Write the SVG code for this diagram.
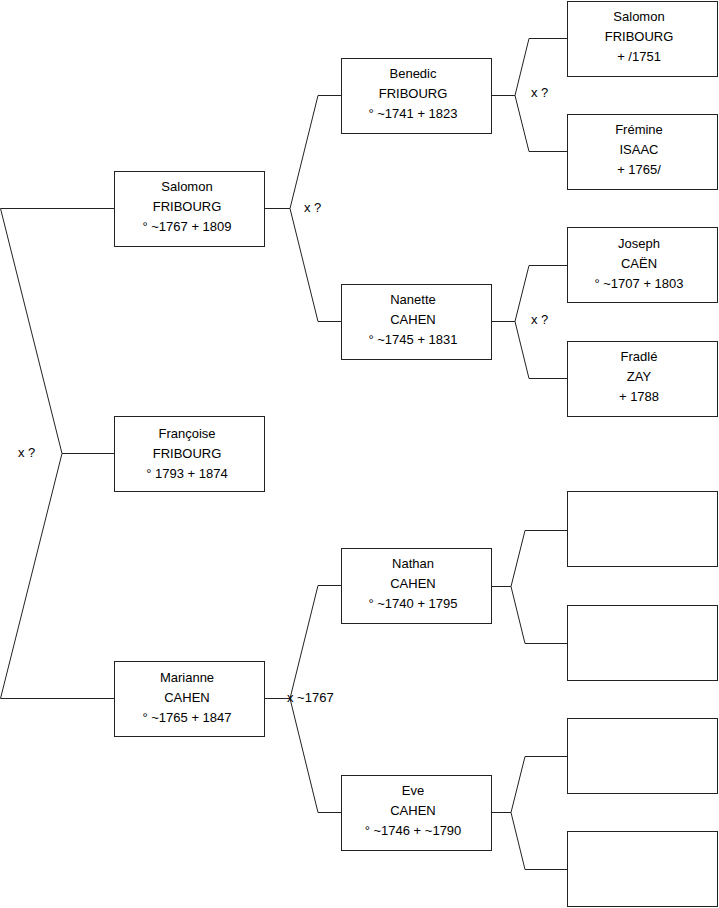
<svg xmlns="http://www.w3.org/2000/svg" width="719" height="908" viewBox="0 0 719 908">
<style>
.box{fill:#fff;stroke:#222;stroke-width:1}
.t{font-family:"Liberation Sans",Arial,sans-serif;font-size:13px;fill:#000;text-anchor:middle}
.l{font-family:"Liberation Sans",Arial,sans-serif;font-size:13px;fill:#000}
.c{fill:none;stroke:#222;stroke-width:1}
</style>
<rect width="719" height="908" fill="#fff"/>
<g id="connectors">
<polyline class="c" points="114,208.5 0.5,208.5 62,453.5 0.5,698.5 114,698.5"/>
<line class="c" x1="62" y1="453.5" x2="114" y2="453.5"/>
<polyline class="c" points="341,95.5 318,95.5 290,208.5 318,321.5 341,321.5"/>
<line class="c" x1="265" y1="208.5" x2="290" y2="208.5"/>
<polyline class="c" points="341,585.5 318,585.5 290,698.5 318,812.5 341,812.5"/>
<line class="c" x1="265" y1="698.5" x2="290" y2="698.5"/>
<polyline class="c" points="567,38.5 529,38.5 515,95.5 529,151.5 567,151.5"/>
<line class="c" x1="491" y1="95.5" x2="515" y2="95.5"/>
<polyline class="c" points="567,265.5 529,265.5 515,321.5 529,378.5 567,378.5"/>
<line class="c" x1="491" y1="321.5" x2="515" y2="321.5"/>
<polyline class="c" points="567,530.5 525,530.5 511,586.5 525,643.5 567,643.5"/>
<line class="c" x1="491" y1="586.5" x2="511" y2="586.5"/>
<polyline class="c" points="567,756.5 525,756.5 511,812.5 525,869.5 567,869.5"/>
<line class="c" x1="491" y1="812.5" x2="511" y2="812.5"/>
<text class="l" x="18" y="457">x ?</text>
<text class="l" x="304" y="212">x ?</text>
<text class="l" x="531" y="97">x ?</text>
<text class="l" x="531" y="324">x ?</text>
<text class="l" x="287" y="702">x ~1767</text>
</g>
<g id="n-salomon-1767">
<rect class="box" x="114.5" y="171.5" width="150" height="75"/>
<text class="t" x="187" y="191">Salomon</text>
<text class="t" x="187" y="211">FRIBOURG</text>
<text class="t" x="187" y="231">° ~1767 + 1809</text>
</g>
<g id="n-francoise">
<rect class="box" x="114.5" y="416.5" width="150" height="75"/>
<text class="t" x="187" y="438">Françoise</text>
<text class="t" x="187" y="458">FRIBOURG</text>
<text class="t" x="187" y="478">° 1793 + 1874</text>
</g>
<g id="n-marianne">
<rect class="box" x="114.5" y="661.5" width="150" height="75"/>
<text class="t" x="187" y="682">Marianne</text>
<text class="t" x="187" y="702">CAHEN</text>
<text class="t" x="187" y="722">° ~1765 + 1847</text>
</g>
<g id="n-benedic">
<rect class="box" x="341.5" y="58.5" width="150" height="75"/>
<text class="t" x="413" y="78">Benedic</text>
<text class="t" x="413" y="98">FRIBOURG</text>
<text class="t" x="413" y="118">° ~1741 + 1823</text>
</g>
<g id="n-nanette">
<rect class="box" x="341.5" y="284.5" width="150" height="75"/>
<text class="t" x="413" y="304">Nanette</text>
<text class="t" x="413" y="324">CAHEN</text>
<text class="t" x="413" y="344">° ~1745 + 1831</text>
</g>
<g id="n-nathan">
<rect class="box" x="341.5" y="548.5" width="150" height="75"/>
<text class="t" x="413" y="568">Nathan</text>
<text class="t" x="413" y="588">CAHEN</text>
<text class="t" x="413" y="608">° ~1740 + 1795</text>
</g>
<g id="n-eve">
<rect class="box" x="341.5" y="775.5" width="150" height="75"/>
<text class="t" x="413" y="795">Eve</text>
<text class="t" x="413" y="815">CAHEN</text>
<text class="t" x="413" y="835">° ~1746 + ~1790</text>
</g>
<g id="n-salomon-1751">
<rect class="box" x="567.5" y="1.5" width="150" height="75"/>
<text class="t" x="639" y="21">Salomon</text>
<text class="t" x="639" y="41">FRIBOURG</text>
<text class="t" x="639" y="61">+ /1751</text>
</g>
<g id="n-fremine">
<rect class="box" x="567.5" y="114.5" width="150" height="75"/>
<text class="t" x="639" y="134">Frémine</text>
<text class="t" x="639" y="154">ISAAC</text>
<text class="t" x="639" y="174">+ 1765/</text>
</g>
<g id="n-joseph">
<rect class="box" x="567.5" y="227.5" width="150" height="75"/>
<text class="t" x="639" y="248">Joseph</text>
<text class="t" x="639" y="268">CAËN</text>
<text class="t" x="639" y="288">° ~1707 + 1803</text>
</g>
<g id="n-fradle">
<rect class="box" x="567.5" y="341.5" width="150" height="75"/>
<text class="t" x="639" y="361">Fradlé</text>
<text class="t" x="639" y="381">ZAY</text>
<text class="t" x="639" y="401">+ 1788</text>
</g>
<g id="n-empty-1"><rect class="box" x="567.5" y="491.5" width="150" height="75"/></g>
<g id="n-empty-2"><rect class="box" x="567.5" y="605.5" width="150" height="75"/></g>
<g id="n-empty-3"><rect class="box" x="567.5" y="718.5" width="150" height="75"/></g>
<g id="n-empty-4"><rect class="box" x="567.5" y="831.5" width="150" height="75"/></g>
</svg>
